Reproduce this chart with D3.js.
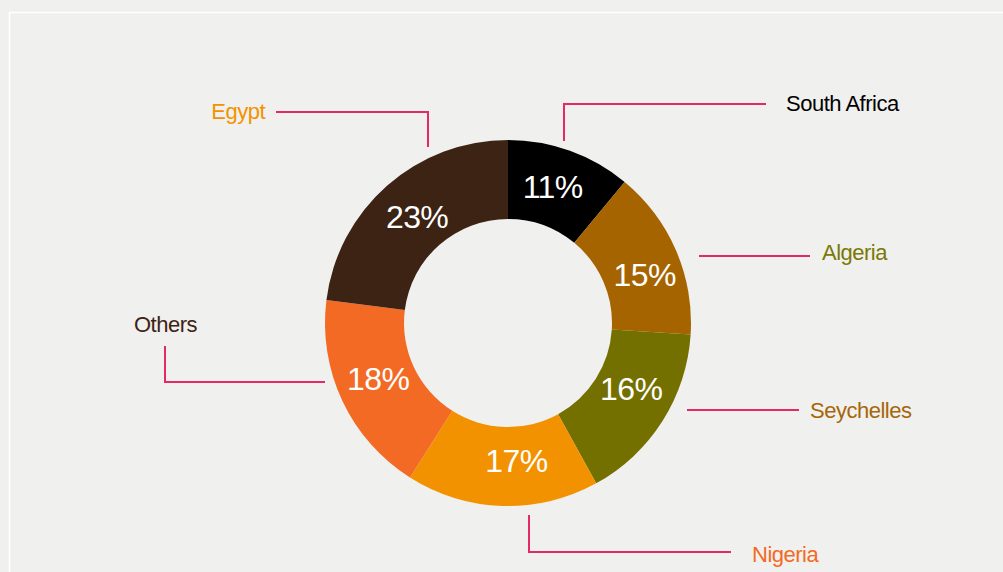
<!DOCTYPE html>
<html>
<head>
<meta charset="utf-8">
<script src="https://cdn.jsdelivr.net/npm/d3@7"></script>
<style>
    html, body { margin: 0; padding: 0; background: #f0f0ee; }
    svg { display: block; font-family: 'Liberation Sans', Arial, Helvetica, sans-serif; }
</style>
</head>
<body>
<svg id="chart" width="1003" height="572"></svg>
<script>
;((d3) => {

    'use strict';

    // data, clockwise from 12 o'clock
    const countries = ['South Africa', 'Algeria', 'Seychelles', 'Nigeria', 'Others', 'Egypt'];
    const shares = [11, 15, 16, 17, 18, 23];
    const slice_colors = ['#000000', '#a56400', '#737000', '#f39200', '#f36a24', '#3d2314'];
    const label_colors = ['#000000', '#7a7806', '#a5670a', '#f36a24', '#3d2314', '#f39200'];

    const width = 1003, height = 572;
    const cx = 508, cy = 323;
    const outer_r = 183, inner_r = 104;
    const leader_color = '#e4286a';

    // hand placed leader lines, relative to the donut centre (layout only)
    const leaders = {
        'South Africa': { pts: [[56, -182], [56, -219], [258, -219]], text: [278, -212], anchor: 'start', nudge: [-4, -1] },
        'Algeria':      { pts: [[191, -67], [302, -67]],              text: [314, -63],  anchor: 'start', nudge: [5, 9] },
        'Seychelles':   { pts: [[179, 87], [291, 87]],                text: [302, 95],   anchor: 'start', nudge: [2, -11] },
        'Nigeria':      { pts: [[21, 192], [21, 229], [223, 229]],    text: [244, 239],  anchor: 'start', nudge: [13, -6] },
        'Others':       { pts: [[-183, 59], [-343, 59], [-343, 23]],  text: [-374, 9],   anchor: 'start', nudge: [0, -5] },
        'Egypt':        { pts: [[-232, -211], [-80, -211], [-80, -176]], text: [-243, -204], anchor: 'end', nudge: [4, 1] }
    };

    const svg = d3.select('#chart');

    svg.append('rect')
        .attr('width', width).attr('height', height)
        .attr('fill', '#f0f0ee');

    // white frame, open to the right and bottom
    svg.append('path')
        .attr('d', `M9.5,${height + 5}V12.5H${width + 5}`)
        .attr('fill', 'none')
        .attr('stroke', '#ffffff')
        .attr('stroke-width', 1.5);

    const rows = countries.map((c, i) => ({ country: c, share: shares[i], color: slice_colors[i], label_color: label_colors[i] }));

    const pie = d3.pie().sort(null).value(d => d.share);
    const arc = d3.arc().innerRadius(inner_r).outerRadius(outer_r);
    const arcs = pie(rows);

    const g = svg.append('g').attr('transform', `translate(${cx},${cy})`);

    g.selectAll('path.slice')
        .data(arcs).enter()
        .append('path')
        .classed('slice', true)
        .attr('d', arc)
        .attr('fill', d => d.data.color);

    g.selectAll('text.pct')
        .data(arcs).enter()
        .append('text')
        .classed('pct', true)
        .attr('transform', d => {
            let [x, y] = arc.centroid(d);
            let [nx, ny] = leaders[d.data.country].nudge;
            return `translate(${x + nx},${y + ny})`;
        })
        .attr('text-anchor', 'middle')
        .attr('dy', '0.35em')
        .attr('fill', '#ffffff')
        .style('font-size', '32px')
        .style('letter-spacing', '-0.6px')
        .text(d => `${d.data.share}%`);

    const line = d3.line();

    g.selectAll('path.leader')
        .data(rows).enter()
        .append('path')
        .classed('leader', true)
        .attr('d', d => line(leaders[d.country].pts))
        .attr('fill', 'none')
        .attr('stroke', leader_color)
        .attr('stroke-width', 2);

    g.selectAll('text.label')
        .data(rows).enter()
        .append('text')
        .classed('label', true)
        .attr('x', d => leaders[d.country].text[0])
        .attr('y', d => leaders[d.country].text[1])
        .attr('text-anchor', d => leaders[d.country].anchor)
        .attr('fill', d => d.label_color)
        .style('font-size', '22px')
        .style('letter-spacing', '-0.5px')
        .text(d => d.country);

})(window.d3);
</script>
</body>
</html>
